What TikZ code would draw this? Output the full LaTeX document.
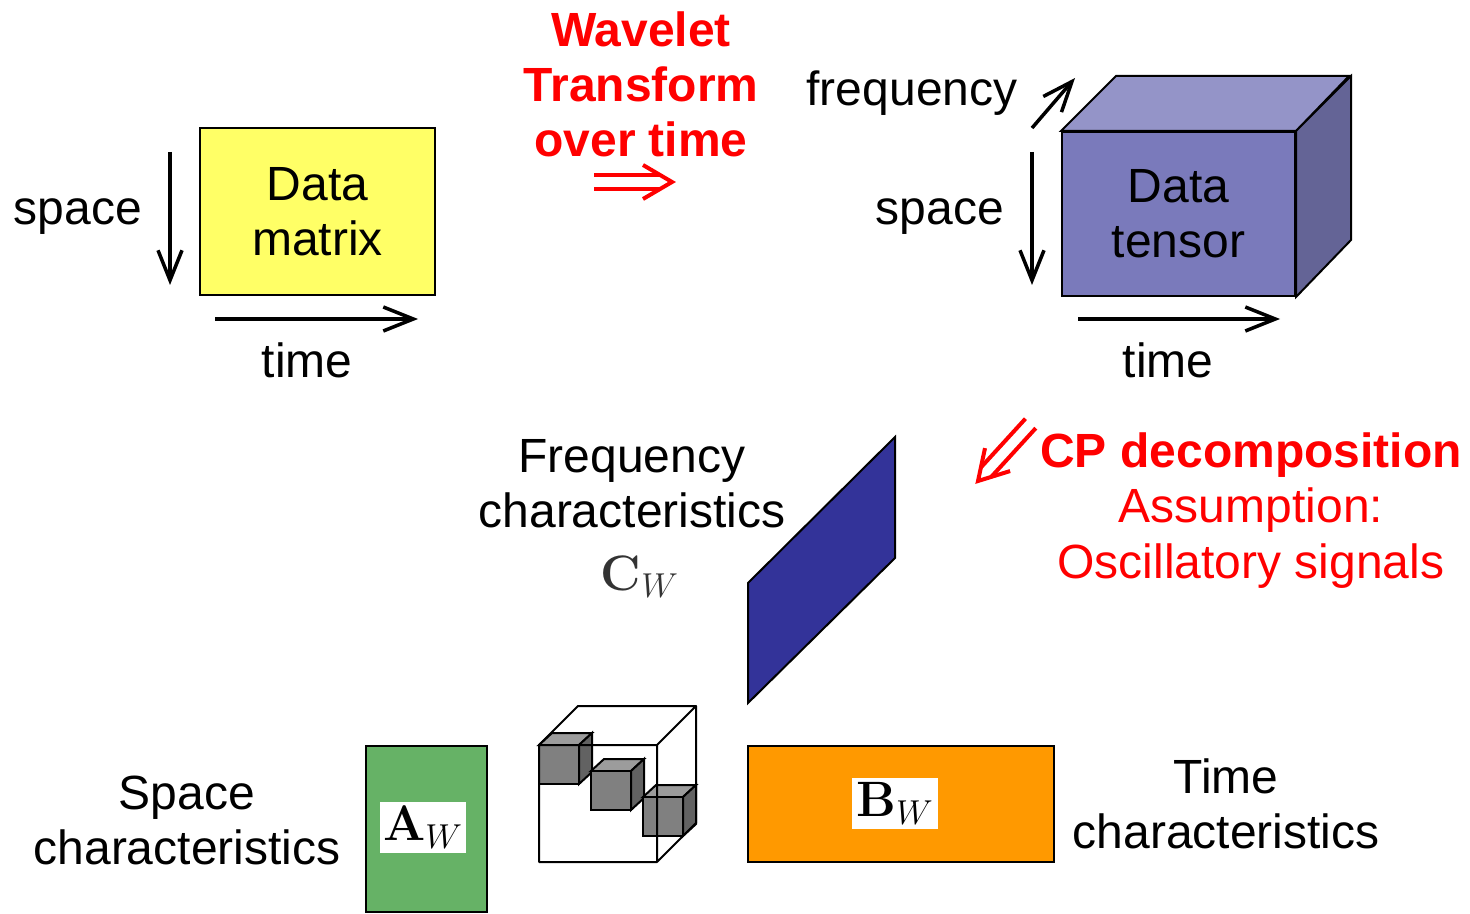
\documentclass[tikz,border=0pt]{standalone}
\usepackage[no-math]{fontspec}
\setmainfont{Liberation Sans}
\usetikzlibrary{arrows.meta}
\definecolor{matyellow}{RGB}{255,255,102}
\definecolor{tensorfront}{RGB}{122,122,187}
\definecolor{tensortop}{RGB}{148,148,200}
\definecolor{tensorside}{RGB}{100,100,150}
\definecolor{freqblue}{RGB}{51,51,153}
\definecolor{spacegreen}{RGB}{102,178,102}
\definecolor{timeorange}{RGB}{255,153,0}
\definecolor{coretop}{RGB}{156,156,156}
\definecolor{corefront}{RGB}{128,128,128}
\definecolor{coreside}{RGB}{98,98,98}
\definecolor{accent}{RGB}{255,0,0}
\begin{document}
\begin{tikzpicture}[x=0.5pt,y=-0.5pt,
  every node/.style={font=\fontsize{24}{27.6}\selectfont, inner sep=0pt},
  lbl/.style={align=center},
  redlbl/.style={align=center, text=accent},
  axisarrow/.style={line width=1.75pt, -{Straight Barb[length=15pt,width=12pt]}},
  facebox/.style={draw, line width=1pt},
  mathlbl/.style={fill=white, font=\fontsize{25}{30}\selectfont},
  dblarrow/.pic={
    \draw[accent, line width=2pt] (-78,-7) -- (-12,-7) (-78,7) -- (-12,7);
    \draw[accent, line width=2pt, miter limit=10] (-29,-17) -- (0,0) -- (-29,17);
  },
  minicube/.pic={
    \draw[line width=1pt, fill=coretop] (0,0) -- (13,-12) -- (53,-12) -- (40,0) -- cycle;
    \draw[line width=1pt, fill=coreside] (40,0) -- (53,-12) -- (53,27) -- (40,39) -- cycle;
    \draw[line width=1pt, fill=corefront] (0,0) rectangle (40,39);
  }]
\useasboundingbox (0,0) rectangle (1470,914);

% ---- data matrix with its axes ----
\node[facebox, fill=matyellow, minimum width=117.5pt, minimum height=83.5pt, lbl]
  (dmat) at (317.5,211.5) {Data\\matrix};
\coordinate (sL0) at (170,152); \coordinate (sL1) at (170,285);
\coordinate (tL0) at (215,319); \coordinate (tL1) at (418,319);
\draw[axisarrow] (sL0) -- (sL1);
\draw[axisarrow] (tL0) -- (tL1);
\node[anchor=base] (spaceL) at (78,225) {space};
\node[anchor=base] (timeL) at (307,377) {time};

% ---- wavelet transform step ----
\node[redlbl, font=\fontsize{24}{27.6}\selectfont\bfseries] (wt) at (641,84.5)
  {Wavelet\\Transform\\over time};
\pic at (672,182) {dblarrow};

% ---- data tensor with its axes ----
\node[facebox, fill=tensorfront, minimum width=116.5pt, minimum height=82pt, lbl]
  (tfront) at (1178.5,214) {Data\\tensor};
\draw[facebox, fill=tensortop] (tfront.north west) -- ++(55,-55) -- ++(233,0)
  -- (tfront.north east) -- cycle;
\draw[facebox, fill=tensorside] (tfront.north east) -- ++(55,-55) -- ++(0,164)
  -- (tfront.south east) -- cycle;
\coordinate (sR0) at (1032,152); \coordinate (sR1) at (1032,285);
\coordinate (tR0) at (1078,319); \coordinate (tR1) at (1280,319);
\coordinate (fR0) at (1032,128); \coordinate (fR1) at (1075,78);
\draw[axisarrow] (sR0) -- (sR1);
\draw[axisarrow] (tR0) -- (tR1);
\draw[axisarrow] (fR0) -- (fR1);
\node[anchor=base] (freqR) at (912,106) {frequency};
\node[anchor=base] (spaceR) at (940,225) {space};
\node[anchor=base] (timeR) at (1168,377) {time};

% ---- CP decomposition step ----
\pic[rotate=227.6] at (978,481) {dblarrow};
\node[redlbl] (cp) at (1251,510.5)
  {\textbf{CP decomposition}\\Assumption:\\Oscillatory signals};

% ---- frequency factor ----
\draw[line width=1pt, fill=freqblue] (748,583) -- (895,437) -- (895,558)
  -- (748,703) -- cycle;
\node[lbl] (freqtxt) at (632,483.5) {Frequency\\characteristics};
\node[font=\fontsize{25}{30}\selectfont, text=black!80] (cw) at (640,577)
  {$\mathbf{C}_W$};

% ---- core tensor ----
\pic at (539,745) {minicube};
\pic at (591,771) {minicube};
\pic at (643,797) {minicube};
\draw[line width=1pt, line join=round]
  (539,745) rectangle (657,862)
  (539,745) -- (578,706) -- (696,706) -- (657,745)
  (696,706) -- (696,823) -- (657,862);

% ---- space factor ----
\node[facebox, fill=spacegreen, minimum width=60.5pt, minimum height=83pt]
  (afac) at (426.5,829) {};
\node[mathlbl, minimum width=43pt, minimum height=25.5pt] (aw) at (423,827.5)
  {$\mathbf{A}_W$};
\node[lbl] (spacetxt) at (187,820.5) {Space\\characteristics};

% ---- time factor ----
\node[facebox, fill=timeorange, minimum width=153pt, minimum height=58pt]
  (bfac) at (901,804) {};
\node[mathlbl, minimum width=43pt, minimum height=25.5pt] (bw) at (895,803.5)
  {$\mathbf{B}_W$};
\node[lbl] (timetxt) at (1226,803.5) {Time\\characteristics};
\end{tikzpicture}
\end{document}
